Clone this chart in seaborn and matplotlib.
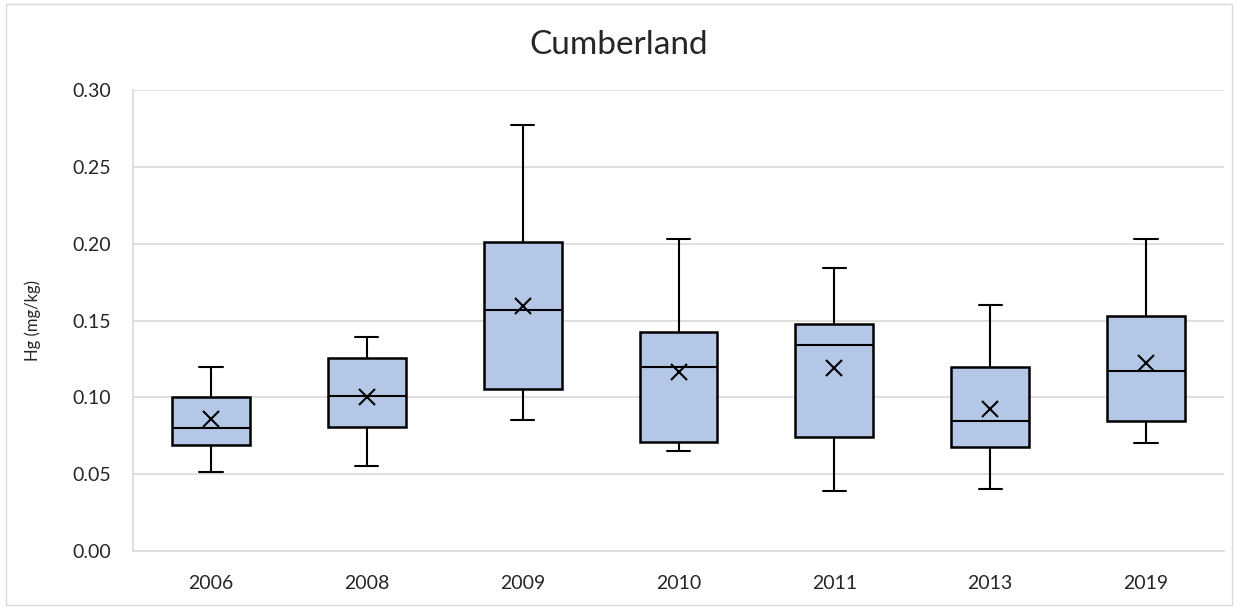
import numpy as np
import pandas as pd
import matplotlib
matplotlib.use('Agg')
import matplotlib.pyplot as plt
import seaborn as sns
from matplotlib.patches import Rectangle

# Box summary (mg/kg)
years = ['2006', '2008', '2009', '2010', '2011', '2013', '2019']
whisk_low = [0.0516, 0.0555, 0.0853, 0.0653, 0.0393, 0.0402, 0.0705]
q1 = [0.0690, 0.0805, 0.1053, 0.0712, 0.0744, 0.0679, 0.0846]
median = [0.0799, 0.1010, 0.1570, 0.1200, 0.1343, 0.0848, 0.1172]
q3 = [0.1005, 0.1254, 0.2010, 0.1428, 0.1476, 0.1200, 0.1530]
whisk_high = [0.1200, 0.1395, 0.2773, 0.2031, 0.1844, 0.1600, 0.2029]
means = [0.0860, 0.1005, 0.1597, 0.1167, 0.1189, 0.0922, 0.1222]

# five points per year -> quartiles land exactly on the box edges
rows = []
for i, yr in enumerate(years):
    for v in (whisk_low[i], q1[i], median[i], q3[i], whisk_high[i]):
        rows.append({'year': yr, 'hg': v})
df = pd.DataFrame(rows)

sns.set_theme(style='white')
plt.rcParams['font.family'] = ['Lato', 'DejaVu Sans']

fig = plt.figure(figsize=(12.38, 6.09), dpi=100)
ax = fig.add_axes([133 / 1238, 1 - 551 / 609, (1224 - 133) / 1238, (551 - 90) / 609])

ax.yaxis.grid(True, color='#D9D9D9', linewidth=1.2, zorder=0)
ax.set_axisbelow(True)

sns.boxplot(data=df, x='year', y='hg', order=years, whis=(0, 100), width=0.5,
            color='#B4C7E7', linewidth=1.8, linecolor='black', fill=True,
            saturation=1, capwidths=0.15, ax=ax,
            boxprops=dict(facecolor='#B4C7E7', edgecolor='black', linewidth=1.8),
            whiskerprops=dict(color='black', linewidth=1.5),
            capprops=dict(color='black', linewidth=1.5),
            medianprops=dict(color='black', linewidth=1.5))

mean_df = pd.DataFrame({'year': years, 'hg': means})
sns.pointplot(data=mean_df, x='year', y='hg', order=years, linestyle='none',
              marker='x', color='black', markersize=11, markeredgewidth=1.5,
              errorbar=None, ax=ax)

ax.set_xlim(-0.5, len(years) - 0.5)
ax.set_ylim(0, 0.30)
ax.set_yticks(np.arange(0, 0.301, 0.05))
ax.set_yticklabels([f'{t:.2f}' for t in np.arange(0, 0.301, 0.05)], fontsize=14)
ax.set_xticks(range(len(years)))
ax.set_xticklabels(years, fontsize=14)
ax.tick_params(axis='y', length=0, pad=16)
ax.tick_params(axis='x', length=0, pad=17)
ax.set_xlabel('')
ax.set_ylabel('Hg (mg/kg)', fontsize=12, labelpad=22)

for side in ['top', 'right']:
    ax.spines[side].set_visible(False)
for side in ['left', 'bottom']:
    ax.spines[side].set_color('#D9D9D9')
    ax.spines[side].set_linewidth(1.2)

fig.text(0.5, 1 - 45 / 609, 'Cumberland', ha='center', va='center', fontsize=24)

# chart frame
fig.patches.append(Rectangle((6 / 1238, 4 / 609), 1 - 12 / 1238, 1 - 8 / 609,
                             transform=fig.transFigure, fill=False,
                             edgecolor='#D9D9D9', linewidth=1))

fig.savefig('out.png', dpi=100)
